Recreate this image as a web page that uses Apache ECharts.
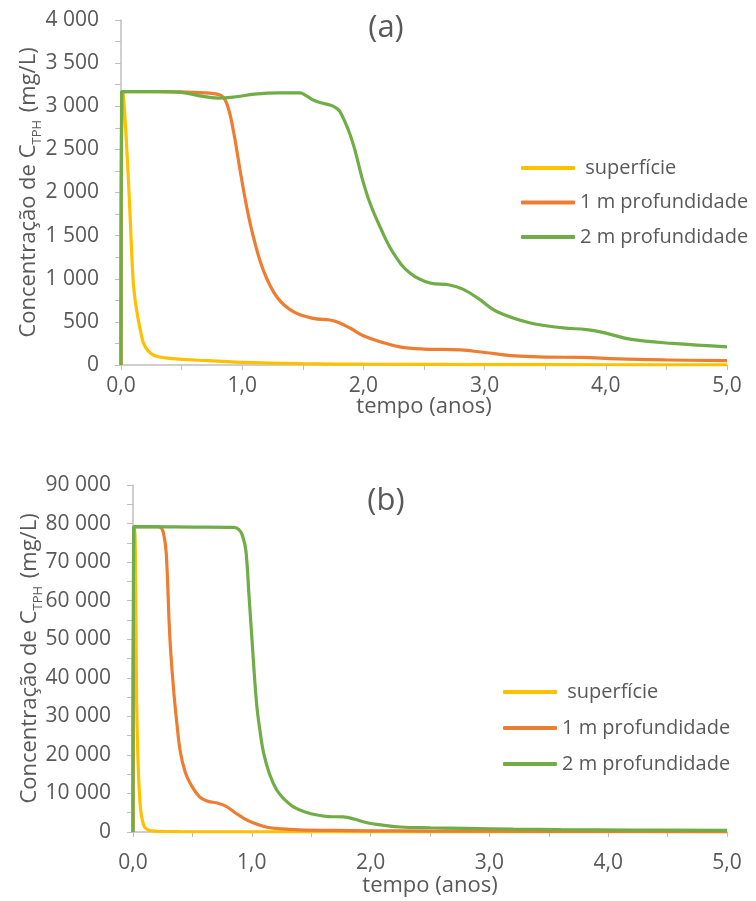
<!DOCTYPE html>
<html>
<head>
<meta charset="utf-8">
<script src="https://cdn.jsdelivr.net/npm/echarts@6/dist/echarts.min.js"></script>
<style>
  html, body { margin: 0; padding: 0; background: #fff; }
  #chart { width: 756px; height: 901px; }
</style>
</head>
<body>
<div id="chart"></div>
<script>
// nomes das séries
const seriesNames = [' superfície', '1 m profundidade', '2 m profundidade'];
const colors = ['#FFC000', '#ED7D31', '#70AD47'];

// (a) pontos [tempo (anos), C_TPH (mg/L)]
const supA = [[0,0],[0.01,3170],[0.02,3120],[0.047,2530],[0.074,1760],[0.10,985],[0.12,720],[0.143,520],[0.165,370],[0.184,260],[0.22,170],[0.267,116],[0.33,90],[0.404,77],[0.5,66],[0.65,55],[0.8,45],[1.0,30],[1.5,15],[2,9],[3,5],[4,3],[5,2]];
const prof1A = [[0,0],[0.01,3170],[0.3,3170],[0.652,3157],[0.817,3130],[0.872,3034],[0.926,2725],[0.982,2261],[1.037,1835],[1.092,1487],[1.174,1101],[1.285,792],[1.422,618],[1.587,541],[1.724,522],[1.8,490],[1.9,420],[2.0,340],[2.15,265],[2.3,210],[2.5,185],[2.8,175],[3.0,145],[3.25,105],[3.5,92],[3.8,88],[4.1,70],[4.5,58],[5.0,50]];
const prof2A = [[0,0],[0.005,3170],[0.3,3170],[0.5,3160],[0.65,3120],[0.8,3095],[0.95,3110],[1.1,3140],[1.3,3155],[1.477,3154],[1.53,3120],[1.586,3072],[1.65,3040],[1.724,3014],[1.77,2985],[1.807,2937],[1.876,2725],[1.93,2493],[1.986,2183],[2.054,1878],[2.137,1603],[2.247,1298],[2.384,1067],[2.55,951],[2.71,928],[2.82,880],[2.95,770],[3.1,620],[3.37,490],[3.65,430],[3.84,410],[4.0,370],[4.2,300],[4.55,250],[5.0,210]];

// (b)
const supB = [[0,0],[0.01,79200],[0.018,76000],[0.025,55000],[0.031,33000],[0.045,16000],[0.059,7500],[0.07,4500],[0.085,2300],[0.1,1200],[0.13,500],[0.2,200],[0.4,80],[1,30],[2,10],[5,5]];
const prof1B = [[0,0],[0.01,79200],[0.2,79200],[0.24,78800],[0.26,77000],[0.28,72300],[0.31,50600],[0.34,37600],[0.37,28000],[0.4,20500],[0.44,15500],[0.48,12700],[0.56,9100],[0.63,8000],[0.71,7500],[0.78,6700],[0.86,5000],[0.93,3600],[1.0,2500],[1.12,1300],[1.25,800],[1.4,550],[1.7,400],[2.0,300],[2.5,250],[3,200],[4,150],[5,100]];
const prof2B = [[0,0],[0.005,79200],[0.5,79100],[0.85,79000],[0.89,78500],[0.92,77000],[0.95,73000],[0.975,62000],[1.0,50600],[1.04,33400],[1.07,26000],[1.1,20400],[1.15,15000],[1.21,10900],[1.28,8300],[1.35,6500],[1.45,5200],[1.55,4400],[1.65,4000],[1.77,3900],[1.87,3300],[1.97,2400],[2.1,1800],[2.25,1300],[2.5,1100],[2.8,950],[3.2,750],[3.6,600],[4.2,500],[5,400]];

const txt = '#595959';
const axisGrey = '#BFBFBF';
const font = 'Open Sans';

function milhar(v) {
  return String(Math.round(v)).replace(/\B(?=(\d{3})+(?!\d))/g, ' ');
}

function xAxis(idx, labelMargin, nameGap) {
  return {
    type: 'value', gridIndex: idx, min: 0, max: 5, interval: 0.5,
    name: 'tempo (anos)', nameLocation: 'middle', nameGap: nameGap, nameMoveOverlap: false,
    nameTextStyle: { color: txt, fontSize: 22, fontFamily: font },
    axisLine: { show: true, lineStyle: { color: axisGrey, width: 1.5 } },
    axisTick: { show: true, length: 5, lineStyle: { color: axisGrey } },
    splitLine: { show: false },
    axisLabel: {
      color: txt, fontSize: 21, fontFamily: font, margin: labelMargin,
      formatter: v => Math.abs(v - Math.round(v)) < 1e-9 ? v.toFixed(1).replace('.', ',') : ''
    }
  };
}

function yAxis(idx, max, interval, gap) {
  return {
    type: 'value', gridIndex: idx, min: 0, max: max, interval: interval / 2,
    name: '{n|Concentração de C}{s|TPH}{n| (mg/L)}', nameLocation: 'middle', nameGap: gap, nameRotate: 90,
    nameMoveOverlap: false,
    nameTextStyle: {
      rich: {
        n: { color: txt, fontSize: 22, fontFamily: font, lineHeight: 28, verticalAlign: 'bottom' },
        s: { color: txt, fontSize: 13, fontFamily: font, lineHeight: 28, verticalAlign: 'bottom', padding: [0, 2, -4, 0] }
      }
    },
    axisLine: { show: true, lineStyle: { color: axisGrey, width: 1.5 } },
    axisTick: { show: true, length: 6, lineStyle: { color: axisGrey } },
    splitLine: { show: false },
    axisLabel: {
      color: txt, fontSize: 21, fontFamily: font, margin: 22,
      formatter: v => (Math.round(v) % interval === 0) ? milhar(v) : ''
    }
  };
}

function linha(name, data, color, idx) {
  return {
    name: name, type: 'line', data: data, xAxisIndex: idx, yAxisIndex: idx,
    showSymbol: false, symbol: 'none', smooth: 0.4,
    lineStyle: { color: color, width: 3.2 }, itemStyle: { color: color },
    silent: true, animation: false
  };
}

function legenda(left, top, gap) {
  return {
    data: seriesNames, orient: 'vertical', left: left, top: top, itemGap: gap,
    icon: 'roundRect', itemWidth: 54, itemHeight: 4,
    textStyle: { color: txt, fontSize: 20, fontFamily: font }
  };
}

const chart = echarts.init(document.getElementById('chart'), null, { renderer: 'canvas' });
chart.setOption({
  animation: false,
  backgroundColor: '#fff',
  title: [
    { text: '(a)', left: 381, top: 8, textAlign: 'center', textStyle: { color: txt, fontSize: 31, fontWeight: 'normal', fontFamily: font } },
    { text: '(b)', left: 381, top: 481, textAlign: 'center', textStyle: { color: txt, fontSize: 31, fontWeight: 'normal', fontFamily: font } }
  ],
  grid: [
    { left: 121, right: 29, top: 20, height: 345 },
    { left: 133, right: 29, top: 485, height: 347 }
  ],
  legend: [legenda(516, 153, 14.5), legenda(498, 677, 16)],
  xAxis: [xAxis(0, 11, 31), xAxis(1, 21, 43)],
  yAxis: [yAxis(0, 4000, 500, 81), yAxis(1, 90000, 10000, 92)],
  series: [
    linha(seriesNames[0], supA, colors[0], 0),
    linha(seriesNames[1], prof1A, colors[1], 0),
    linha(seriesNames[2], prof2A, colors[2], 0),
    linha(seriesNames[0], supB, colors[0], 1),
    linha(seriesNames[1], prof1B, colors[1], 1),
    linha(seriesNames[2], prof2B, colors[2], 1)
  ]
});
</script>
</body>
</html>
